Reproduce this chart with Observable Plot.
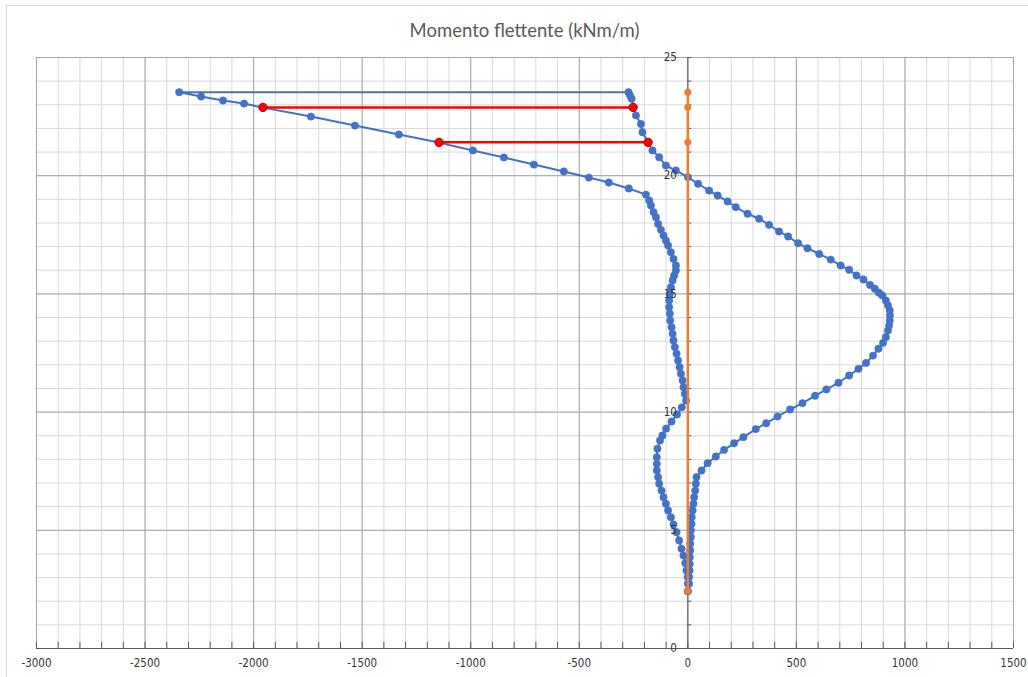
<!DOCTYPE html>
<html>
<head>
<meta charset="utf-8">
<script src="https://cdn.jsdelivr.net/npm/d3@7"></script>
<script src="https://cdn.jsdelivr.net/npm/@observablehq/plot@0.6"></script>
<style>
  html, body { margin: 0; padding: 0; background: #fff; }
  #wrap { position: relative; width: 1028px; height: 677px; overflow: hidden; background: #fff; }
  #border { position: absolute; left: 6px; top: 5px; width: 1040px; height: 700px; border: 1px solid #d9d9d9; box-sizing: border-box; }
  #title { position: absolute; left: 36px; right: 15px; top: 18px; text-align: center;
           font-family: Lato, "Open Sans", sans-serif; font-size: 18.5px; line-height: 24px; color: #595959; }
  #chart { position: absolute; left: 0; top: 46px; }
</style>
</head>
<body>
<div id="wrap">
  <div id="border"></div>
  <div id="title">Momento flettente (kNm/m)</div>
  <div id="chart"></div>
</div>
<script>
// ---- Data (depth z in m, moment in kNm/m) ----
// Blue envelope: right branch from bottom to top, then left branch from top to bottom
const rightDepth = [2.42, 2.74, 3.02, 3.30, 3.58, 3.86, 4.15, 4.43, 4.71, 4.99, 5.27, 5.55, 5.84, 6.12, 6.40, 6.68, 6.97, 7.25,
  7.53, 7.84, 8.12, 8.40, 8.68, 8.94, 9.28, 9.53, 9.81, 10.11,
  10.38, 10.69, 10.96, 11.24, 11.55, 11.83, 12.08, 12.39, 12.68, 12.93,
  13.17, 13.45, 13.66, 13.87, 14.09, 14.30, 14.51, 14.72, 14.93, 15.05,
  15.22, 15.38, 15.61, 15.78, 16.02, 16.20, 16.45, 16.69, 16.93, 17.14,
  17.43, 17.64, 17.92, 18.18, 18.39, 18.67, 18.91, 19.16, 19.37, 19.66,
  19.94, 20.22, 20.43, 20.78, 21.07, 21.42, 21.84, 22.19, 22.55, 22.90,
  23.25, 23.39, 23.53];
const rightMoment = [0, 6, 6, 8, 9, 9, 11, 11, 14, 14, 17, 18, 22, 26, 29, 34, 37, 40,
  63, 91, 129, 167, 213, 256, 313, 361, 413, 471,
  528, 586, 638, 694, 743, 786, 821, 853, 878, 899,
  912, 922, 927, 930, 931, 930, 922, 912, 896, 880,
  861, 839, 809, 777, 743, 704, 658, 605, 551, 508,
  462, 420, 374, 328, 275, 221, 183, 137, 98, 47,
  0, -55, -101, -132, -163, -183, -209, -216, -239, -252,
  -259, -266, -273];
const leftDepth = [23.53, 23.35, 23.18, 23.05, 22.88, 22.50, 22.12, 21.74, 21.40, 21.07, 20.77, 20.47, 20.18, 19.92, 19.71, 19.46,
  19.20, 18.95, 18.74, 18.46, 18.24, 17.96, 17.71, 17.47, 17.26, 17.05, 16.76, 16.48, 16.20,
  15.99, 15.78, 15.57, 15.28, 15.00, 14.72, 14.44, 14.16, 13.87, 13.59, 13.31, 13.03, 12.75, 12.47, 12.18, 11.90, 11.62, 11.34, 11.05,
  10.77, 10.49, 10.20, 9.90, 9.60, 9.30, 9.01, 8.80, 8.45, 8.09,
  7.81, 7.53, 7.25, 6.97, 6.68, 6.40, 6.12, 5.84, 5.55, 5.25, 4.92, 4.57, 4.22, 3.93, 3.61, 3.30, 3.02, 2.74, 2.42];
const leftMoment = [-2343, -2242, -2141, -2044, -1957, -1736, -1533, -1331, -1146, -990, -847, -709, -571, -456, -364, -272,
  -193, -178, -170, -158, -147, -137, -124, -112, -101, -91, -78, -66, -55,
  -55, -63, -70, -78, -83, -86, -86, -83, -81, -75, -70, -66, -60, -52, -45, -38, -32, -24, -20,
  -14, -8, -28, -50, -75, -100, -117, -128, -140, -143,
  -143, -143, -137, -132, -121, -112, -101, -91, -78, -66, -52, -40, -29, -20, -12, -6, -1, 0, 0];

// Red horizontal segments
const redSegment = ["a", "a", "b", "b"];
const redDepth = [22.89, 22.89, 21.41, 21.41];
const redMoment = [-1957, -252, -1146, -183];

// Orange vertical series
const orangeDepth = [2.42, 21.41, 22.90, 23.53];
const orangeMoment = [0, 0, 0, 0];

// Axis ticks
const xMajorTicks = [-3000, -2500, -2000, -1500, -1000, -500, 0, 500, 1000, 1500];
const yMajorTicks = [0, 5, 10, 15, 20, 25];
const xMinorTicks = d3.range(-3000, 1501, 100);
const yMinorTicks = d3.range(0, 26, 1);

// ---- Build tables ----
const blue = [
  ...rightDepth.map((z, i) => ({z, m: rightMoment[i]})),
  ...leftDepth.map((z, i) => ({z, m: leftMoment[i]}))
];
const red = redDepth.map((z, i) => ({z, m: redMoment[i], s: redSegment[i]}));
const orange = orangeDepth.map((z, i) => ({z, m: orangeMoment[i]}));

const BLUE = "#4472C4", ORANGE = "#ED7D31", RED = "#FF0000";
const AXIS = "#595959";
const labelFont = '"Liberation Sans Narrow", "DejaVu Sans Condensed", "Roboto Condensed", sans-serif';

const chart = Plot.plot({
  width: 1028,
  height: 631,
  marginTop: 11,
  marginBottom: 29,
  marginLeft: 36,
  marginRight: 15,
  x: {domain: [-3000, 1500], axis: null},
  y: {domain: [0, 25], axis: null},
  style: {background: "transparent", overflow: "visible"},
  marks: [
    // gridlines
    Plot.ruleX(xMinorTicks, {stroke: "#d9d9d9", strokeWidth: 1}),
    Plot.ruleY(yMinorTicks, {stroke: "#d9d9d9", strokeWidth: 1}),
    Plot.ruleX(xMajorTicks, {stroke: "#a6a6a6", strokeWidth: 1}),
    Plot.ruleY(yMajorTicks, {stroke: "#a6a6a6", strokeWidth: 1}),
    // axes lines crossing at 0
    Plot.ruleY([0], {stroke: AXIS, strokeWidth: 1}),
    Plot.ruleX([0], {stroke: AXIS, strokeWidth: 1}),
    // tick marks
    Plot.ruleX(xMinorTicks, {x: d => d, y1: 0, y2: 0.26, stroke: AXIS}),
    Plot.ruleY(yMinorTicks, {y: d => d, x1: 0, x2: 18, stroke: AXIS}),
    // blue series
    Plot.line(blue, {x: "m", y: "z", stroke: BLUE, strokeWidth: 2}),
    Plot.dot(blue, {x: "m", y: "z", r: 3.7, fill: BLUE, stroke: BLUE, strokeWidth: 0.5}),
    // red series
    Plot.line(red, {x: "m", y: "z", z: "s", stroke: RED, strokeWidth: 2.5}),
    Plot.dot(red, {x: "m", y: "z", r: 4.2, fill: RED, stroke: "#c00000", strokeWidth: 1}),
    // orange series
    Plot.line(orange, {x: "m", y: "z", stroke: ORANGE, strokeWidth: 2.5}),
    Plot.dot(orange, {x: "m", y: "z", r: 3.5, fill: ORANGE}),
    // tick labels (on top)
    Plot.text(xMajorTicks, {x: d => d, y: 0, dy: 15, text: d => String(d), fill: "#333333",
      fontSize: 11.5, fontFamily: labelFont}),
    Plot.text(yMajorTicks, {x: 0, y: d => d, dx: -11, text: d => String(d), textAnchor: "end", fill: "#333333",
      fontSize: 11.5, fontFamily: labelFont})
  ]
});
document.getElementById("chart").appendChild(chart);
</script>
</body>
</html>
